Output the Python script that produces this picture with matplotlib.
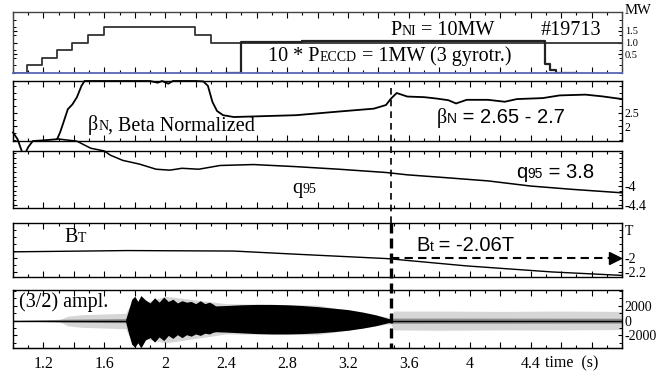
import matplotlib
matplotlib.use('Agg')
import matplotlib.pyplot as plt
from matplotlib.ticker import MultipleLocator, FixedLocator, NullFormatter
from matplotlib.offsetbox import TextArea, HPacker, AnnotationBbox
from matplotlib.lines import Line2D
import matplotlib.transforms as mtrans

SERIF = ['Liberation Serif', 'DejaVu Serif']
SANS = ['Liberation Sans', 'DejaVu Sans']
plt.rcParams['font.family'] = SERIF

# ---------------- data ----------------
# Panel 1: heating power (units of 10 MW)
t_pni = [1.0, 1.095, 1.19, 1.29, 1.39, 1.495, 1.595, 2.195, 2.30, 5.0]
pni = [0.0, 0.25, 0.5, 0.75, 1.0, 1.25, 1.5, 1.25, 1.0, 1.0]
t_eccd = [2.40, 2.50, 2.9, 3.3, 3.8, 4.2, 4.494, 4.53, 4.565, 4.70]
eccd = [0.0, 1.03, 1.05, 1.06, 1.06, 1.05, 0.30, 0.10, 0.0, 0.0]
p1_ticks = [0.607, 1.0, 1.393]
p1_labels = ['0.5', '1.0', '1.5']

# Panel 2: beta normalized
t_beta = [1.0, 1.03, 1.07, 1.10, 1.13, 1.2, 1.29, 1.31, 1.33, 1.36, 1.39, 1.42,
          1.45, 1.47, 1.50, 1.9, 1.95, 1.98, 2.02, 2.05, 2.2, 2.25, 2.28, 2.31,
          2.34, 2.38, 2.45, 2.6, 2.86, 3.14, 3.37, 3.45, 3.48, 3.52, 3.59, 3.70,
          3.78, 3.86, 3.91, 3.98, 4.12, 4.23, 4.31, 4.48, 4.59, 4.76, 4.87, 5.0]
beta = [1.779, 1.530, 0.890, 1.238, 1.462, 1.487, 1.530, 1.793, 2.127, 2.639,
        2.817, 3.087, 3.507, 3.685, 3.685, 3.685, 3.621, 3.685, 3.585, 3.685,
        3.685, 3.670, 3.507, 2.909, 2.575, 2.419, 2.351, 2.376, 2.419, 2.554,
        2.661, 2.796, 3.016, 3.240, 3.109, 3.087, 3.037, 2.973, 2.853, 2.988,
        2.988, 2.917, 3.016, 3.052, 3.151, 3.180, 3.116, 3.016]
p2_ticks = [2.0, 2.5]
p2_labels = ['2', '2.5']

# Panel 3: q95
t_q = [1.29, 1.42, 1.51, 1.60, 1.64, 1.72, 1.83, 1.94, 2.03, 2.11, 2.22, 2.36,
       2.58, 2.86, 3.14, 3.45, 3.59, 3.84, 4.12, 4.40, 4.67, 5.0]
q95 = [-2.99, -3.04, -3.19, -3.25, -3.34, -3.45, -3.53, -3.64, -3.66, -3.62,
       -3.64, -3.56, -3.54, -3.585, -3.64, -3.71, -3.76, -3.82, -3.89, -4.0,
       -4.07, -4.145]
p3_ticks = [-4.4, -4.0]
p3_labels = ['-4.4', '-4']

# Panel 4: toroidal field
t_bt = [1.0, 1.47, 1.75, 2.45, 2.86, 3.46, 3.98, 4.54, 5.0]
bt = [-1.911, -1.90, -1.893, -1.90, -1.945, -2.008, -2.112, -2.198, -2.247]
bt_flat = -2.0
p4_ticks = [-2.2, -2.0]
p4_labels = ['-2.2', '-2']

# Panel 5: (3/2) mode amplitude envelopes
t_core = [1.74, 1.76, 1.78, 1.80, 1.82, 1.84, 1.87, 1.90, 1.93, 1.96, 1.99, 2.02,
          2.05, 2.08, 2.11, 2.14, 2.17, 2.20, 2.23, 2.26, 2.29, 2.31, 2.33, 2.40,
          2.50, 2.60, 2.70, 2.80, 2.90, 3.00, 3.10, 3.20, 3.30, 3.38, 3.44, 3.48]
core_hi = [200, 1500, 2900, 3300, 2600, 3400, 2800, 2400, 3100, 2500, 3200, 2600,
           2900, 2400, 2700, 2500, 2600, 2300, 2700, 2300, 2500, 2300, 2000, 2050,
           2150, 2200, 2200, 2150, 2050, 1900, 1700, 1500, 1150, 800, 450, 200]
core_lo = [-200, -1800, -3200, -3600, -3000, -3700, -2600, -2300, -2900, -2200,
           -2700, -2000, -2400, -1900, -2300, -1900, -2100, -1800, -2000, -1700,
           -1800, -1600, -1500, -1550, -1650, -1750, -1800, -1800, -1750, -1650,
           -1500, -1300, -1000, -700, -400, -200]
t_spk = [1.0, 1.30, 1.36, 1.45, 1.60, 1.74, 1.76, 2.0, 2.4, 3.0, 3.48, 3.50, 3.8, 4.2, 4.6, 5.0]
spk_hi = [60, 100, 600, 800, 900, 1000, 1800, 3300, 2300, 2100, 400, 1300, 1300, 1250, 1300, 1250]
spk_lo = [-60, -100, -700, -900, -1000, -1100, -2000, -3000, -1800, -1900, -400, -1250, -1300, -1250, -1250, -1200]
t_mid = [1.0, 1.36, 1.74, 3.48, 3.50, 5.0]
mid_amp = [40, 200, 280, 250, 350, 330]
p5_ticks = [-2000, 0, 2000]
p5_labels = ['-2000', '0', '2000']

t_mark = 3.48
xtick_vals = [1.2, 1.6, 2.0, 2.4, 2.8, 3.2, 3.6, 4.0, 4.4]
xtick_labels = ['1.2', '1.6', '2', '2.4', '2.8', '3.2', '3.6', '4', '4.4']

# ---------------- layout ----------------
fig = plt.figure(figsize=(6.65, 3.78), dpi=100)
L, W = 13 / 665, 609 / 665


def axbox(top, bot):
    return [L, 1 - bot / 378, W, (bot - top) / 378]


ax1 = fig.add_axes(axbox(12, 73))
ax2 = fig.add_axes(axbox(81, 141))
ax3 = fig.add_axes(axbox(151, 208))
ax4 = fig.add_axes(axbox(223, 277))
ax5 = fig.add_axes(axbox(290, 348))


def style(ax, ylim, ticks, labels, yminor, lsize=10):
    ax.set_xlim(1.0, 5.0)
    ax.set_ylim(*ylim)
    ax.xaxis.set_major_locator(MultipleLocator(0.2))
    ax.xaxis.set_minor_locator(MultipleLocator(0.1))
    ax.xaxis.set_major_formatter(NullFormatter())
    ax.tick_params(axis='x', which='both', direction='in', top=True, bottom=True,
                   labelbottom=False)
    ax.tick_params(axis='x', which='major', length=4, width=0.8)
    ax.tick_params(axis='x', which='minor', length=2, width=0.8)
    ax.yaxis.set_major_locator(FixedLocator(ticks))
    ax.set_yticklabels(labels)
    ax.yaxis.set_minor_locator(MultipleLocator(yminor))
    ax.tick_params(axis='y', which='both', direction='in', left=True, right=True,
                   labelleft=False, labelright=True, labelsize=lsize, pad=2)
    ax.tick_params(axis='y', which='major', length=3, width=0.8)
    ax.tick_params(axis='y', which='minor', length=2, width=0.7)
    for s in ax.spines.values():
        s.set_linewidth(1.0)


style(ax1, (0, 2.0), p1_ticks, p1_labels, 0.25, lsize=7.5)
style(ax2, (1.463, 3.685), p2_ticks, p2_labels, 0.25, lsize=8.5)
style(ax3, (-4.47, -3.25), p3_ticks, p3_labels, 0.1)
style(ax4, (-2.27, -1.50), p4_ticks, p4_labels, 0.1)
style(ax5, (-3700, 4150), p5_ticks, p5_labels, 1000)
for s in ['top', 'left', 'right']:
    ax1.spines[s].set_color('#444444')
ax1.spines['bottom'].set_color('#5b68b5')
ax1.spines['bottom'].set_linewidth(1.3)

# ---------------- curves ----------------
ax1.plot(t_pni, pni, drawstyle='steps-post', color='#333333', lw=1.3)
ax1.plot(t_eccd, eccd, drawstyle='steps-post', color='#222222', lw=1.6)

ax2.plot(t_beta, beta, color='black', lw=1.3, clip_on=False)
ax3.plot(t_q, q95, color='black', lw=1.1, clip_on=False)
ax4.plot(t_bt, bt, color='black', lw=1.0)
ax4.plot([t_mark, 4.94], [bt_flat, bt_flat], color='black', lw=1.5, ls=(0, (4, 2.5)))
ax4.plot([4.955], [bt_flat], marker='>', ms=8, color='black', clip_on=False)

ax5.fill_between(t_spk, spk_lo, spk_hi, color='#d6d6d6', lw=0)
ax5.fill_between(t_mid, [-a for a in mid_amp], mid_amp, color='#8c8c8c', lw=0)
ax5.fill_between(t_core, core_lo, core_hi, color='black', lw=0)
ax5.plot([1.0, 5.0], [0, 0], color='black', lw=1.0)

# dashed time marker
trans = mtrans.blended_transform_factory(ax5.transData, fig.transFigure)
p2, p4, p5 = ax2.get_position(), ax4.get_position(), ax5.get_position()
fig.add_artist(Line2D([t_mark, t_mark], [p2.y0 + 0.88 * p2.height, p4.y1],
                      transform=trans, color='black', lw=1.2, ls=(0, (4, 3))))
fig.add_artist(Line2D([t_mark, t_mark], [p4.y1, p5.y0], transform=trans,
                      color='black', lw=2.4, ls=(0, (3, 1.5))))

# bottom tick labels
sec = ax5.secondary_xaxis('bottom')
sec.set_xticks(xtick_vals, xtick_labels)
sec.tick_params(length=0, pad=6, labelsize=11.5)
ax5.text(0.874, -0.26, 'time  (s)', transform=ax5.transAxes, fontsize=11.5,
         ha='left', va='center')


# ---------------- annotations ----------------
def rich(ax, x, y, parts):
    boxes = [TextArea(s, textprops=dict(fontsize=fs, family=fam)) for s, fs, fam in parts]
    pack = HPacker(children=boxes, align='baseline', pad=0, sep=0)
    ab = AnnotationBbox(pack, (x, y), xycoords=ax.transAxes, box_alignment=(0, 0.5),
                        frameon=False, pad=0, annotation_clip=False)
    ax.add_artist(ab)


BIG, SM = 14.5, 10
rich(ax1, 0.619, 0.70, [('P', BIG, SERIF), ('NI', SM, SERIF), (' = 10MW', BIG, SERIF)])
rich(ax1, 0.867, 0.70, [('#19713', BIG, SERIF)])
rich(ax1, 0.419, 0.28, [('10 * P', BIG, SERIF), ('ECCD', SM, SERIF),
                        (' = 1MW (3 gyrotr.)', BIG, SERIF)])
ax1.text(1.005, 1.03, 'MW', transform=ax1.transAxes, fontsize=10.5, ha='left', va='center')

rich(ax2, 0.123, 0.26, [('β', BIG, SERIF), ('N', SM, SERIF),
                        (', Beta Normalized', BIG, SERIF)])
rich(ax2, 0.696, 0.38, [('β', BIG, SERIF), ('N', SM, SANS),
                        (' = 2.65 - 2.7', BIG, SANS)])

rich(ax3, 0.458, 0.35, [('q', BIG, SERIF), ('95', SM, SERIF)])
rich(ax3, 0.826, 0.63, [('q', BIG, SANS), ('95', SM, SANS), (' = 3.8', BIG, SANS)])

rich(ax4, 0.084, 0.74, [('B', BIG, SERIF), ('T', SM, SERIF)])
rich(ax4, 0.662, 0.59, [('B', BIG, SANS), ('t', SM, SANS), (' = -2.06T', BIG, SANS)])
ax4.text(1.005, 0.85, 'T', transform=ax4.transAxes, fontsize=10, ha='left', va='center')

rich(ax5, 0.01, 0.79, [('(3/2) ampl.', BIG, SERIF)])

fig.savefig('out.png', dpi=100)
